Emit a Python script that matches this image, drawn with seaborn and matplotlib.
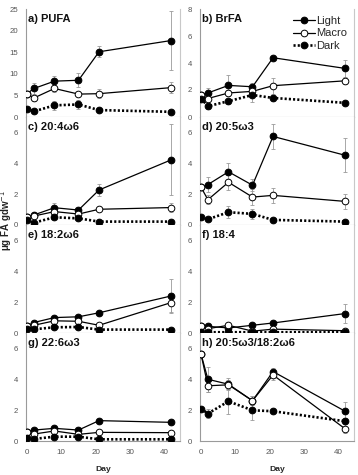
import matplotlib
matplotlib.use("Agg")
import matplotlib.pyplot as plt
import seaborn as sns
import pandas as pd

days = [0, 2, 8, 15, 21, 42]
series_names = ["Light", "Macro", "Dark"]

panel_titles = ["a) PUFA", "b) BrFA", "c) 20:4\u03c96", "d) 20:5\u03c93",
                "e) 18:2\u03c96", "f) 18:4", "g) 22:6\u03c93", "h) 20:5\u03c93/18:2\u03c96"]

pufa_light = [5.4, 6.6, 8.3, 8.5, 15.1, 17.7]
pufa_macro = [5.4, 4.4, 6.6, 5.3, 5.4, 6.8]
pufa_dark = [1.9, 1.3, 2.7, 2.9, 1.6, 1.2]
pufa_light_err = [0, 1.2, 1.2, 1.6, 1.3, 6.9]
pufa_macro_err = [0, 0.6, 0.8, 0.5, 1.0, 1.2]
pufa_dark_err = [0, 0.3, 1.0, 1.0, 0.3, 0.3]

brfa_light = [1.66, 1.78, 2.34, 2.24, 4.39, 3.6]
brfa_macro = [1.66, 1.37, 1.78, 1.9, 2.32, 2.68]
brfa_dark = [1.37, 0.8, 1.17, 1.63, 1.41, 1.05]
brfa_light_err = [0, 0.35, 0.8, 0.3, 0.15, 0.6]
brfa_macro_err = [0, 0.2, 0.2, 0.2, 0.6, 0.2]
brfa_dark_err = [0, 0.2, 0.2, 0.5, 0.2, 0.1]

ara_light = [0.54, 0.65, 1.12, 0.97, 2.27, 4.22]
ara_macro = [0.54, 0.58, 0.87, 0.71, 1.02, 1.13]
ara_dark = [0.32, 0.15, 0.5, 0.43, 0.22, 0.22]
ara_light_err = [0, 0.15, 0.3, 0.15, 0.4, 2.3]
ara_macro_err = [0, 0.1, 0.2, 0.1, 0.1, 0.3]
ara_dark_err = [0, 0.05, 0.1, 0.1, 0.05, 0.05]

epa_light = [2.45, 2.62, 3.45, 2.58, 5.74, 4.52]
epa_macro = [2.45, 1.64, 2.77, 1.81, 1.92, 1.53]
epa_dark = [0.5, 0.37, 0.83, 0.72, 0.33, 0.22]
epa_light_err = [0, 0.5, 0.6, 0.4, 0.8, 1.1]
epa_macro_err = [0, 0.3, 0.5, 0.5, 0.5, 0.5]
epa_dark_err = [0, 0.1, 0.4, 0.3, 0.1, 0.05]

la_light = [0.46, 0.68, 1.0, 1.05, 1.31, 2.4]
la_macro = [0.46, 0.5, 0.79, 0.76, 0.5, 1.97]
la_dark = [0.24, 0.24, 0.37, 0.39, 0.22, 0.22]
la_light_err = [0, 0.1, 0.1, 0.1, 0.1, 1.1]
la_macro_err = [0, 0.1, 0.1, 0.1, 0.1, 0.6]
la_dark_err = [0, 0.05, 0.05, 0.05, 0.05, 0.05]

sda_light = [0.43, 0.43, 0.33, 0.5, 0.65, 1.26]
sda_macro = [0.43, 0.28, 0.5, 0.12, 0.25, 0.15]
sda_dark = [0.07, 0.05, 0.05, 0.05, 0.05, 0.05]
sda_light_err = [0, 0.05, 0.05, 0.05, 0.1, 0.6]
sda_macro_err = [0, 0.05, 0.05, 0.05, 0.05, 0.05]
sda_dark_err = [0, 0.02, 0.02, 0.02, 0.02, 0.02]

dha_light = [0.6, 0.71, 0.82, 0.71, 1.32, 1.21]
dha_macro = [0.6, 0.45, 0.65, 0.43, 0.56, 0.54]
dha_dark = [0.17, 0.13, 0.28, 0.28, 0.11, 0.11]
dha_light_err = [0, 0.1, 0.1, 0.1, 0.1, 0.1]
dha_macro_err = [0, 0.05, 0.1, 0.05, 0.05, 0.05]
dha_dark_err = [0, 0.05, 0.05, 0.05, 0.05, 0.05]

ratio_light = [5.63, 4.0, 3.68, 2.61, 4.5, 1.93]
ratio_macro = [5.63, 3.58, 3.64, 2.61, 4.28, 0.79]
ratio_dark = [2.1, 1.78, 2.57, 1.99, 1.93, 1.28]
ratio_light_err = [0, 0.8, 0.4, 0.3, 0.2, 0.6]
ratio_macro_err = [0, 0.4, 0.3, 0.3, 0.3, 0.3]
ratio_dark_err = [0, 0.3, 0.8, 0.6, 0.1, 0.2]

panels = [
    (pufa_light, pufa_macro, pufa_dark, pufa_light_err, pufa_macro_err, pufa_dark_err),
    (brfa_light, brfa_macro, brfa_dark, brfa_light_err, brfa_macro_err, brfa_dark_err),
    (ara_light, ara_macro, ara_dark, ara_light_err, ara_macro_err, ara_dark_err),
    (epa_light, epa_macro, epa_dark, epa_light_err, epa_macro_err, epa_dark_err),
    (la_light, la_macro, la_dark, la_light_err, la_macro_err, la_dark_err),
    (sda_light, sda_macro, sda_dark, sda_light_err, sda_macro_err, sda_dark_err),
    (dha_light, dha_macro, dha_dark, dha_light_err, dha_macro_err, dha_dark_err),
    (ratio_light, ratio_macro, ratio_dark, ratio_light_err, ratio_macro_err, ratio_dark_err),
]

sns.set_theme(style="white")
plt.rcParams["font.family"] = ["Liberation Sans", "DejaVu Sans"]

W, H = 358, 475
fig = plt.figure(figsize=(W / 100, H / 100), dpi=100)

col_x = [(26, 180), (200, 354)]
row_y = [(9, 117), (117, 225), (225, 333), (333, 441)]

styles = {
    "Light": dict(color="black", linestyle="-", linewidth=0.9, marker="o",
                  markersize=4.8, markerfacecolor="black", markeredgecolor="black"),
    "Macro": dict(color="black", linestyle="-", linewidth=0.9, marker="o",
                  markersize=4.8, markerfacecolor="white", markeredgecolor="black",
                  markeredgewidth=0.7),
    "Dark": dict(color="black", linestyle=(0, (0.8, 0.8)), linewidth=1.9, marker="o",
                 markersize=4.8, markerfacecolor="black", markeredgecolor="black"),
}

grey = "#9a9a9a"
for i, (title, pdata) in enumerate(zip(panel_titles, panels)):
    r, c = divmod(i, 2)
    x0, x1 = col_x[c]
    y0, y1 = row_y[r]
    ax = fig.add_axes([x0 / W, 1 - y1 / H, (x1 - x0) / W, (y1 - y0) / H])
    vals = pdata[:3]
    errs = pdata[3:]
    for name, v, e in zip(series_names, vals, errs):
        ax.errorbar(days, v, yerr=e, fmt="none", ecolor=grey, elinewidth=0.6,
                    capsize=1.6, capthick=0.6, zorder=1)
    for name, v in zip(series_names, vals):
        df = pd.DataFrame({"Day": days, "val": v})
        sns.lineplot(data=df, x="Day", y="val", ax=ax, sort=False, errorbar=None,
                     legend=False, label=name, zorder=3, **styles[name])
    ax.set_xlim(-0.3, 44.6)
    if i == 0:
        ax.set_ylim(0, 25)
        ax.set_yticks([0, 5, 10, 15, 20, 25])
    elif i == 1:
        ax.set_ylim(0, 8)
        ax.set_yticks([0, 2, 4, 6, 8])
    else:
        ax.set_ylim(0, 7)
        ax.set_yticks([0, 2, 4, 6])
    ax.set_xticks([0, 10, 20, 30, 40])
    ax.set_ylabel("")
    ax.set_xlabel("")
    for s in ["left", "bottom"]:
        ax.spines[s].set_color(grey)
        ax.spines[s].set_linewidth(0.8)
    ax.spines["right"].set_color("#c8c8c8")
    ax.spines["right"].set_linewidth(0.8)
    ax.spines["top"].set_visible(False)
    ax.tick_params(axis="y", labelcolor="#555555", labelsize=5.6,
                   length=0, pad=5.8, left=False)
    if r == 3:
        ax.tick_params(axis="x", labelcolor="#555555", labelsize=5.8,
                       length=0, pad=6, bottom=False)
        ax.set_xlabel("Day", fontsize=6.1, fontweight="bold", labelpad=7)
    else:
        ax.tick_params(axis="x", labelbottom=False, bottom=False)
    ax.text(0.012, 0.95, title, transform=ax.transAxes, ha="left", va="top",
            fontsize=8, fontweight="bold", color="#111111")
    if i == 1:
        handles, labels = ax.get_legend_handles_labels()
        ax.legend(handles, labels, loc="upper right", bbox_to_anchor=(1.0, 1.0),
                  frameon=False, fontsize=8, handlelength=2.0, handletextpad=0.1,
                  labelspacing=0.25, borderaxespad=0.2)
    else:
        leg = ax.get_legend()
        if leg is not None:
            leg.remove()

fig.text(6.5 / W, 1 - 220 / H, "\u03bcg FA gdw$^{-1}$", rotation=90, ha="center",
         va="center", fontsize=7, fontweight="bold", color="#222222")

fig.savefig("out.png", dpi=100)
